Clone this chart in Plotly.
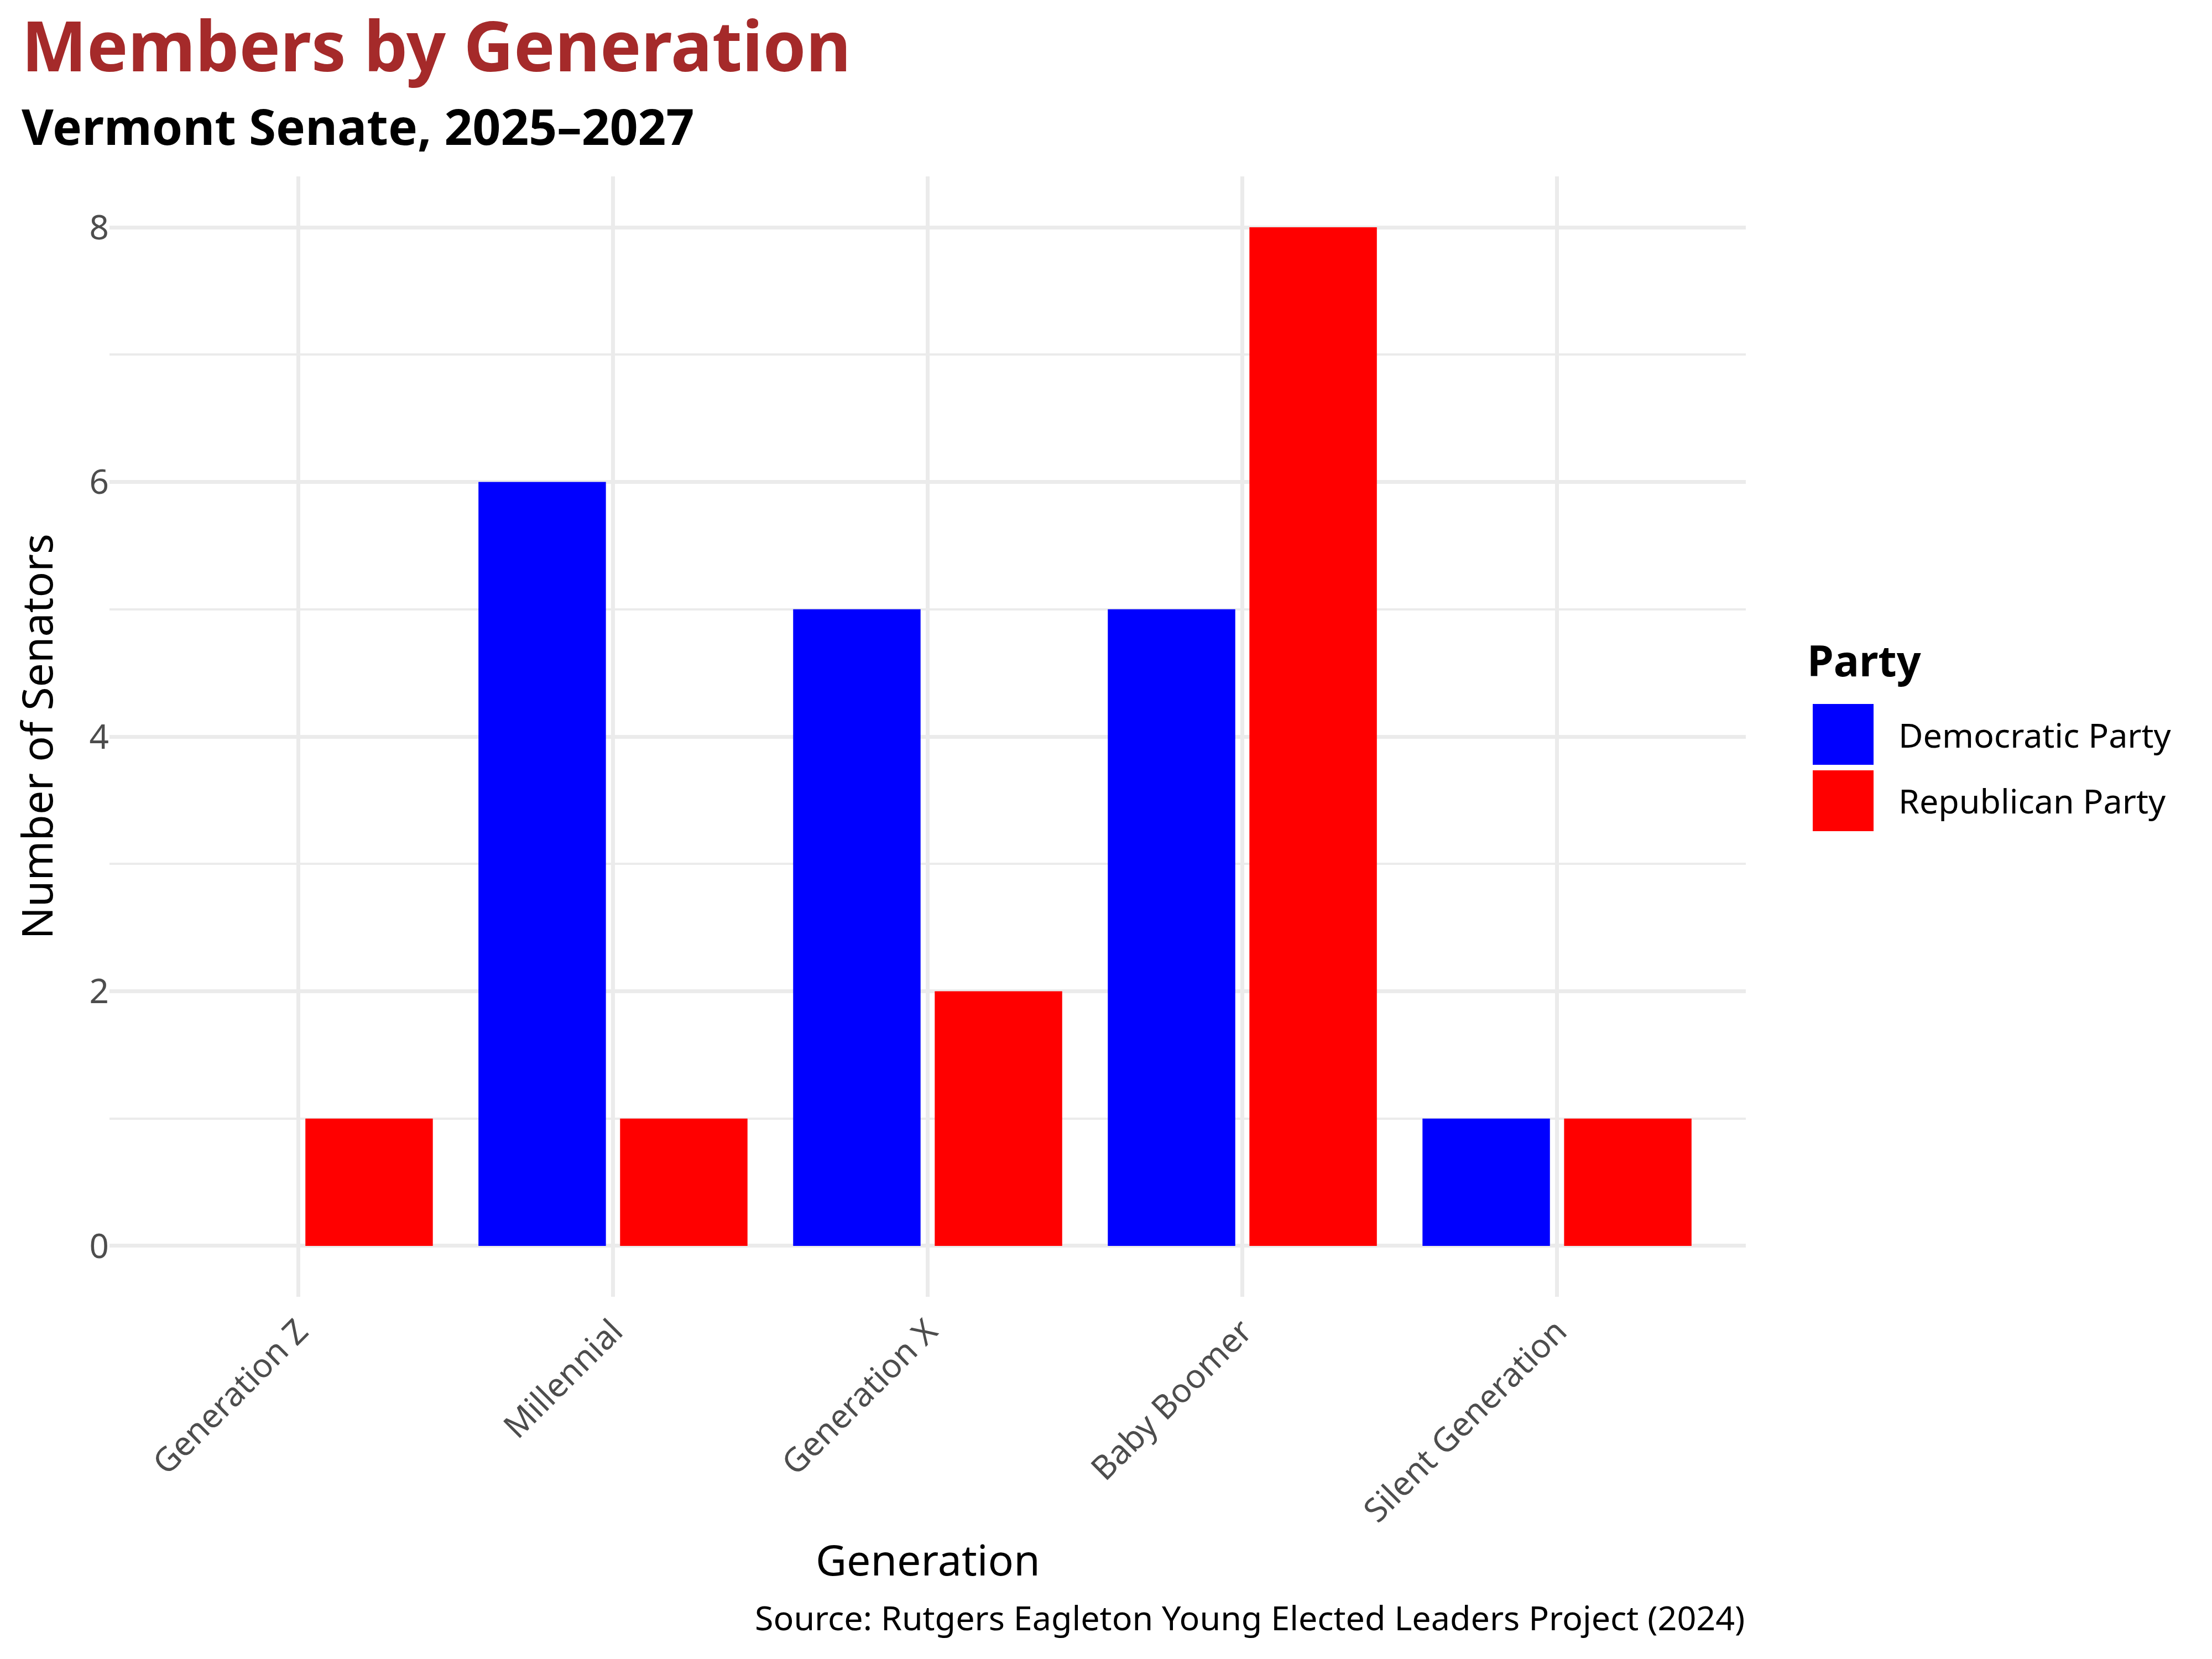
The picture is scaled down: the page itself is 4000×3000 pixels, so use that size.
import plotly.graph_objects as go

# ---- data ----
generations = ["Generation Z", "Millennial", "Generation X", "Baby Boomer", "Silent Generation"]
parties = ["Democratic Party", "Republican Party"]
party_colors = ["#0000FF", "#FF0000"]
dem_counts = [0, 6, 5, 5, 1]
rep_counts = [1, 1, 2, 8, 1]
y_ticks = [0, 2, 4, 6, 8]

title_text = "Members by Generation"
subtitle_text = "Vermont Senate, 2025–2027"
x_title = "Generation"
y_title = "Number of Senators"
legend_title = "Party"
caption_text = "Source: Rutgers Eagleton Young Elected Leaders Project (2024)"

# ---- layout geometry (page pixels; the page body adds an 8 px offset) ----
W, H = 4000, 3000
OFF = 8
PL, PR, PT, PB = 198, 3157, 319, 2345   # plot area on the page
L, T = PL - OFF, PT - OFF
R, B = W - (PR - OFF), H - (PB - OFF)
PW = PR - PL
PH = PB - PT
FONT = "Noto Sans"
GRID = "#EBEBEB"


def px_x(px):
    return (px - PL) / PW


def px_y(py):
    return (PB - py) / PH


fig = go.Figure()
series = [dem_counts, rep_counts]
for name, color, vals in zip(parties, party_colors, series):
    fig.add_trace(go.Bar(
        x=generations, y=vals, name=name,
        marker=dict(color=color, line=dict(width=0)),
        showlegend=False,
    ))

annotations = [
    dict(text=title_text, x=px_x(37), y=px_y(127 - 0.37 * 125), xanchor="left", yanchor="middle",
         font=dict(family=FONT, size=125, color="#A52A2A", weight="bold")),
    dict(text=subtitle_text, x=px_x(37), y=px_y(260 - 0.37 * 89), xanchor="left", yanchor="middle",
         font=dict(family=FONT, size=89, color="black", weight="bold")),
    dict(text=x_title, x=0.5, y=px_y(2848 - 0.37 * 77), xanchor="center", yanchor="middle",
         font=dict(family=FONT, size=77, color="black")),
    dict(text=y_title, x=px_x(93 - 0.37 * 77), y=0.5, xanchor="center", yanchor="middle", textangle=-90,
         font=dict(family=FONT, size=77, color="black")),
    dict(text=caption_text, x=1.0, y=px_y(2947 - 0.37 * 61), xanchor="right", yanchor="middle",
         font=dict(family=FONT, size=61, color="black")),
    dict(text=legend_title, x=px_x(3266), y=px_y(1222 - 0.37 * 77), xanchor="left", yanchor="middle",
         font=dict(family=FONT, size=77, color="black", weight="bold")),
]

shapes = []
key_top, key_size, key_step = 1273, 110, 120
for i, (name, color) in enumerate(zip(parties, party_colors)):
    top = key_top + i * key_step
    shapes.append(dict(type="rect", xref="paper", yref="paper",
                       x0=px_x(3278), x1=px_x(3278 + key_size),
                       y0=px_y(top + key_size), y1=px_y(top),
                       fillcolor=color, line=dict(width=0)))
    annotations.append(dict(text=name, x=px_x(3431), y=px_y(top + key_size / 2), xanchor="left",
                            yanchor="middle", font=dict(family=FONT, size=61, color="black")))

for a in annotations:
    a.update(xref="paper", yref="paper", showarrow=False)

fig.update_layout(
    width=W, height=H,
    margin=dict(l=L, r=R, t=T, b=B, autoexpand=False),
    paper_bgcolor="white", plot_bgcolor="white",
    barmode="group", bargap=0.1, bargroupgap=0.1,
    font=dict(family=FONT, color="black"),
    annotations=annotations, shapes=shapes,
    showlegend=False,
)
fig.update_xaxes(
    type="category", range=[-0.6, len(generations) - 0.4],
    showgrid=True, gridcolor=GRID, gridwidth=7, zeroline=False, showline=False,
    tickangle=-45, tickfont=dict(family=FONT, size=60, color="#4D4D4D"), ticks="",
    ticklabelstandoff=14,
)
fig.update_yaxes(
    range=[-0.4, 8.4], tickvals=y_ticks, ticktext=[str(v) for v in y_ticks],
    showgrid=True, gridcolor=GRID, gridwidth=7, zeroline=False, showline=False,
    minor=dict(dtick=1, tick0=0, showgrid=True, gridcolor=GRID, gridwidth=3.5),
    tickfont=dict(family=FONT, size=62, color="#4D4D4D"), ticks="",
)

fig.write_html("out.html")
